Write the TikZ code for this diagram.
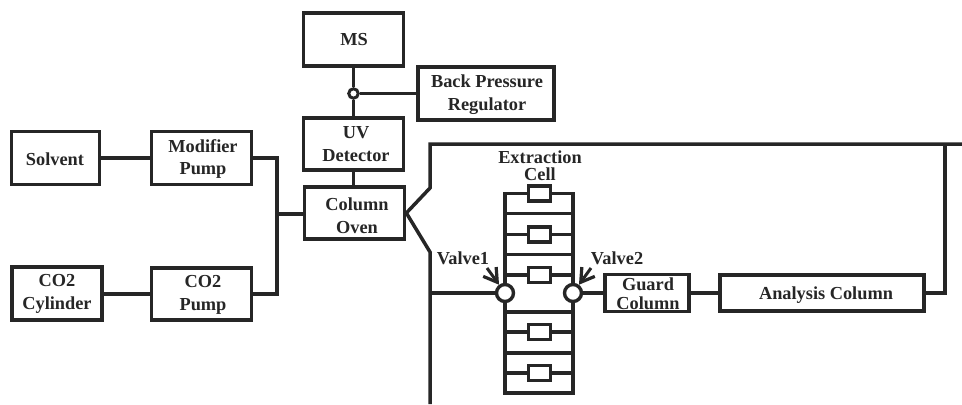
\documentclass[tikz,border=0pt]{standalone}
\usepackage{fontspec}
\setmainfont{Liberation Serif}
\usetikzlibrary{arrows.meta}
\definecolor{ink}{HTML}{262626}
\tikzset{
  x=1bp,y=-1bp,
  wire/.style={draw=ink,line width=3.5bp,line join=miter},
  box/.style={draw=ink,line width=3.7bp,fill=white,inner sep=0pt},
  txt/.style={inner sep=0pt,align=center,text=ink,
    font=\fontsize{18.4}{23}\selectfont\bfseries},
  tight/.style={font=\fontsize{18.4}{19}\selectfont\bfseries},
  label/.style={inner sep=0pt,align=center,text=ink,
    font=\fontsize{18.4}{17.5}\selectfont\bfseries},
  cell/.style={draw=ink,line width=3.2bp,fill=white,minimum width=22bp,minimum height=15bp,inner sep=0pt},
  valve/.style={circle,draw=ink,line width=3.4bp,fill=white,minimum size=17bp,inner sep=0pt},
  tee/.style={circle,draw=ink,line width=3bp,fill=white,minimum size=9.5bp,inner sep=0pt},
  pointer/.style={draw=ink,line width=3bp,-{Straight Barb[length=13bp,width=16bp,line width=3.2bp]}},
}
\begin{document}
\begin{tikzpicture}
\useasboundingbox (0,0) rectangle (962,404);
% boxes
\node[box,minimum width=100bp,minimum height=53bp] (ms) at (353.5,39.5) {};
\node[box,minimum width=136bp,minimum height=53bp] (bpr) at (486,93.5) {};
\node[box,minimum width=100bp,minimum height=52bp] (uv) at (353.5,144) {};
\node[box,minimum width=100bp,minimum height=52bp] (oven) at (354.5,213) {};
\node[box,minimum width=88bp,minimum height=53bp] (solvent) at (55.5,158) {};
\node[box,minimum width=100bp,minimum height=53bp] (modifier) at (201.5,158) {};
\node[box,minimum width=90bp,minimum height=53bp] (cylinder) at (57,293.5) {};
\node[box,minimum width=100bp,minimum height=52bp] (co2pump) at (201.5,294) {};
\node[box,minimum width=84bp,minimum height=37bp] (guard) at (647,293) {};
\node[box,minimum width=204bp,minimum height=36bp] (analysis) at (822,293) {};
% box texts
\node[txt] (tms) at (354,40) {MS};
\node[txt] (tbpr) at (487,95) {Back Pressure\\Regulator};
\node[txt] (tuv) at (356,144.5) {UV\\Detector};
\node[txt] (toven) at (357,215.5) {Column\\Oven};
\node[txt] (tsolvent) at (55,159) {Solvent};
\node[txt] (tmodifier) at (203,159) {Modifier\\Pump};
\node[txt] (tcylinder) at (57,294) {CO2\\Cylinder};
\node[txt] (tco2pump) at (203,295) {CO2\\Pump};
\node[txt,tight] (tguard) at (648,294) {Guard\\Column};
\node[txt] (tanalysis) at (826,295) {Analysis Column};
% junctions and free ends
\node[tee] (t) at (353.5,93.5) {};
\coordinate (bus) at (277,214);
\coordinate (topl) at (430,144);
\coordinate (kneeU) at (430,188);
\coordinate (kneeL) at (430,252);
\coordinate (feed) at (430,293);
\coordinate (bottom) at (430,404);
\coordinate (topr) at (945,144);
\coordinate (edge) at (962,144);
\coordinate (ret) at (945,293);
% left feed lines
\draw[wire] (solvent) -- (modifier);
\draw[wire] (cylinder.east |- co2pump) -- (co2pump);
\draw[wire] (modifier.east) -| (bus) |- (co2pump.east);
\draw[wire] (bus) -- (bus -| oven.west);
% vertical stack
\draw[wire] (ms) -- (t);
\draw[wire] (t) -- (uv);
\draw[wire] (t) -- (bpr.west);
\draw[wire] (uv) -- (uv |- oven.north);
% extraction loop
\draw[wire] (oven.east) -- (kneeU) -- (topl) -- (edge);
\draw[wire] (oven.east) -- (kneeL) -- (bottom);
\draw[wire] (analysis.east) -- (ret) -- (topr);
% ladder
\coordinate (lt) at (505,193.5);
\coordinate (rt) at (573,193.5);
\coordinate (lb) at (505,393);
\coordinate (rb) at (573,393);
\draw[wire] (lt) rectangle (rb);
\foreach \y in {213.5,254.5,312,353}{
  \draw[wire] (505,\y) -- (573,\y);
}
\foreach \n/\y in {c1/193.5,c2/234.5,c3/275,c4/332,c5/373}{
  \coordinate (\n l) at (505,\y);
  \coordinate (\n r) at (573,\y);
  \node[cell] (\n) at (539.5,\y) {};
  \draw[wire] (\n l) -- (\n);
  \draw[wire] (\n) -- (\n r);
}
\node[valve] (v1) at (505,293) {};
\node[valve] (v2) at (573,293) {};
\draw[wire] (feed) -- (v1);
\draw[wire] (v2) -- (guard);
\draw[wire] (guard) -- (analysis);
% labels
\node[label] (lcell) at (540,165.5) {Extraction\\Cell};
\node[label] (lv1) at (463,258) {Valve1};
\node[label] (lv2) at (617,258) {Valve2};
\coordinate (p1) at (487,268);
\coordinate (p2) at (591,268);
\draw[pointer] (p1) -- (v1);
\draw[pointer] (p2) -- (v2);
\end{tikzpicture}
\end{document}
